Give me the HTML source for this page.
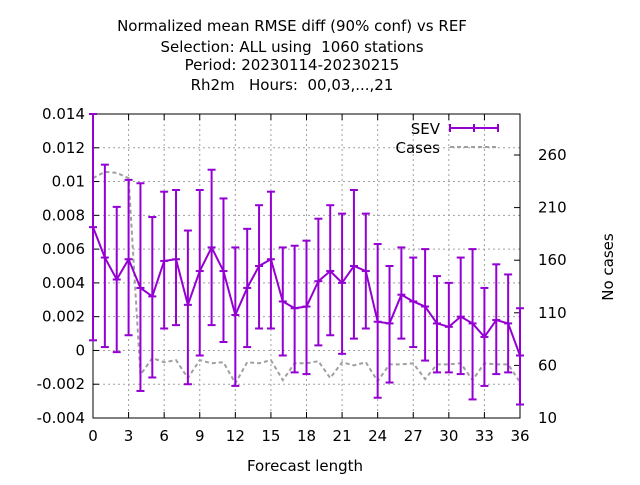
<!DOCTYPE html>
<html><head><meta charset="utf-8"><style>
body{margin:0;background:#fff}
svg text{font-family:"DejaVu Sans","Liberation Sans",sans-serif;font-size:15px;fill:#000;white-space:pre}
</style></head><body>
<svg id="c" width="640" height="480" xmlns="http://www.w3.org/2000/svg" xml:space="preserve">
<g text-anchor="middle">
<text x="292" y="31">Normalized mean RMSE diff (90% conf) vs REF</text>
<text x="292" y="52">Selection: ALL using  1060 stations</text>
<text x="292" y="70">Period: 20230114-20230215</text>
<text x="292" y="90">Rh2m   Hours:  00,03,...,21</text>
</g>
<g id="grid"></g>
<g id="axes"></g>
<g id="cases"></g>
<g id="sev"></g>
<text x="305" y="471" text-anchor="middle">Forecast length</text>
<text transform="translate(613,267) rotate(-90)" text-anchor="middle">No cases</text>
<g>
<text x="440" y="134" text-anchor="end">SEV</text>
<line x1="450" y1="128" x2="498" y2="128" stroke="#9400d3" stroke-width="2"/>
<line x1="450" y1="124" x2="450" y2="132" stroke="#9400d3" stroke-width="2"/>
<line x1="498" y1="124" x2="498" y2="132" stroke="#9400d3" stroke-width="2"/>
<line x1="474" y1="124" x2="474" y2="132" stroke="#9400d3" stroke-width="2"/>
<text x="440" y="153" text-anchor="end">Cases</text>
<line x1="450" y1="147" x2="498" y2="147" stroke="#a0a0a0" stroke-width="2" stroke-dasharray="4,3"/>
</g>
</svg>
<script>
const hours=[0,1,2,3,4,5,6,7,8,9,10,11,12,13,14,15,16,17,18,19,20,21,22,23,24,25,26,27,28,29,30,31,32,33,34,35,36];
const sevMean=[0.0073,0.0055,0.0042,0.0054,0.0037,0.0032,0.0053,0.0054,0.0027,0.0047,0.0061,0.0047,0.0021,0.0037,0.0050,0.0054,0.0029,0.0025,0.0026,0.0041,0.0047,0.0040,0.0050,0.0047,0.0017,0.0016,0.0033,0.0029,0.0026,0.0016,0.0014,0.0020,0.0016,0.0008,0.0018,0.0016,-0.0003];
const sevHigh=[0.0140,0.0110,0.0085,0.0101,0.0099,0.0079,0.0094,0.0095,0.0071,0.0095,0.0107,0.0090,0.0061,0.0072,0.0086,0.0094,0.0061,0.0062,0.0065,0.0078,0.0086,0.0081,0.0095,0.0081,0.0063,0.0050,0.0061,0.0055,0.0060,0.0044,0.0040,0.0055,0.0060,0.0037,0.0051,0.0045,0.0025];
const sevLow=[0.0006,0.0002,-0.0001,0.0009,-0.0024,-0.0016,0.0013,0.0015,-0.0020,-0.0003,0.0015,0.0005,-0.0021,0.0002,0.0013,0.0013,-0.0003,-0.0013,-0.0014,0.0003,0.0009,-0.0002,0.0007,0.0013,-0.0028,-0.0019,0.0007,0.0002,-0.0006,-0.0013,-0.0013,-0.0014,-0.0029,-0.0021,-0.0014,-0.0013,-0.0032];
const cases=[238,244,243,238,51,67,63,65,48,65,62,63,43,63,62,65,46,62,62,64,48,63,60,63,45,61,61,62,47,61,61,62,46,62,61,61,44];
const yTicks=[-0.004,-0.002,0,0.002,0.004,0.006,0.008,0.01,0.012,0.014];
const yTickLabels=["-0.004","-0.002","0","0.002","0.004","0.006","0.008","0.01","0.012","0.014"];
const xTicks=[0,3,6,9,12,15,18,21,24,27,30,33,36];
const y2Ticks=[10,60,110,160,210,260];

const L=93,R=520,T=114,B=418,NS="http://www.w3.org/2000/svg";
const X=h=>L+(h-0)/(36-0)*(R-L);
const Y=v=>B-(v+0.004)/(0.018)*(B-T);
const Y2=c=>B-(c-10)/250*263;
function mk(tag,attrs,parent,txt){const e=document.createElementNS(NS,tag);for(const k in attrs)e.setAttribute(k,attrs[k]);if(txt!==undefined)e.textContent=txt;document.getElementById(parent).appendChild(e);return e;}
const gs={stroke:"#a0a0a0","stroke-width":1,"stroke-dasharray":"2,3"};
yTicks.forEach((v,i)=>{
 if(i>0&&i<yTicks.length-1){const g=mk("line",Object.assign({x1:L,x2:R,y1:Y(v),y2:Y(v)},gs),"grid");}
 mk("line",{x1:L,x2:L+6,y1:Y(v),y2:Y(v),stroke:"#000"},"axes");
 const t=mk("text",{x:L-8,y:Y(v)+5,"text-anchor":"end"},"axes",yTickLabels[i]);
 
 
});
xTicks.forEach(h=>{
 if(h>0&&h<36){const g=mk("line",Object.assign({x1:X(h),x2:X(h),y1:T,y2:B},gs),"grid");}
 mk("line",{x1:X(h),x2:X(h),y1:B,y2:B-6,stroke:"#000"},"axes");
 mk("line",{x1:X(h),x2:X(h),y1:T,y2:T+6,stroke:"#000"},"axes");
 const t=mk("text",{x:X(h),y:B+23,"text-anchor":"middle"},"axes",String(h));
 
 
});
y2Ticks.forEach(c=>{
 mk("line",{x1:R-6,x2:R,y1:Y2(c),y2:Y2(c),stroke:"#000"},"axes");
 const t=mk("text",{x:R+18,y:Y2(c)+5,"text-anchor":"start"},"axes",String(c));
 
 
});
const fr=mk("rect",{x:L,y:T,width:R-L,height:B-T,fill:"none",stroke:"#000","stroke-width":1},"axes");


const cp=mk("polyline",{points:hours.map((h,i)=>X(h)+","+Y2(cases[i])).join(" "),fill:"none",stroke:"#a0a0a0","stroke-width":2,"stroke-dasharray":"4,3"},"cases");


const sp=mk("polyline",{points:hours.map((h,i)=>X(h)+","+Y(sevMean[i])).join(" "),fill:"none",stroke:"#9400d3","stroke-width":2},"sev");


hours.forEach((h,i)=>{
 const x=X(h),c="#9400d3";
 const e=mk("line",{x1:x,x2:x,y1:Y(sevLow[i]),y2:Y(sevHigh[i]),stroke:c,"stroke-width":2},"sev");
 
 
 mk("line",{x1:x-4,x2:x+4,y1:Y(sevLow[i]),y2:Y(sevLow[i]),stroke:c,"stroke-width":2},"sev");
 mk("line",{x1:x-4,x2:x+4,y1:Y(sevHigh[i]),y2:Y(sevHigh[i]),stroke:c,"stroke-width":2},"sev");
 mk("line",{x1:x-4,x2:x+4,y1:Y(sevMean[i]),y2:Y(sevMean[i]),stroke:c,"stroke-width":2},"sev");
});
</script>
</body></html>
